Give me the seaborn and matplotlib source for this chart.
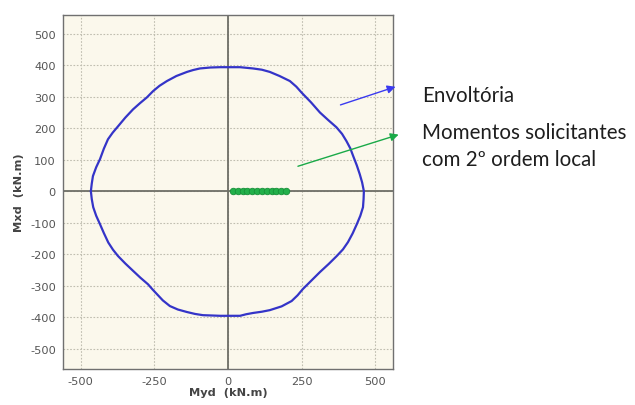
"""
Interaction diagram: envelope of resisting moments and applied moments.
"""
import pandas as pd
import seaborn as sns
import matplotlib.pyplot as plt

# envelope (Myd, Mxd) in kN.m
env_myd = [-465, -462, -458, -447, -434, -421, -407, -391, -373, -348, -322, -298, -275, -254,
           -232, -207, -175, -139, -118, -95, -60, -27, 10, 41,
           85, 115, 142, 175, 210, 232, 250, 282, 312, 340, 368, 387, 402, 415, 425, 437, 447,
           455, 461,
           460, 458, 449, 437, 423, 407, 390, 369, 342, 312, 283, 254, 236, 216, 182, 142, 115,
           85, 62, 41, 8, -27, -55, -85, -112, -139, -170, -197, -221, -241, -256, -271, -297,
           -322, -348, -373, -390, -406, -421, -434, -447, -457, -462, -465]
env_mxd = [0, 24, 48, 76, 102, 135, 165, 186, 206, 234, 260, 280, 298, 318,
           335, 350, 366, 379, 385, 390, 393, 394, 394, 394,
           390, 386, 379, 366, 350, 332, 313, 282, 250, 226, 203, 182, 159, 136, 111, 82, 54,
           28, 0,
           -25, -51, -78, -105, -134, -162, -185, -206, -231, -257, -284, -311, -331, -349, -366,
           -378, -383, -387, -391, -396, -396, -396, -395, -394, -390, -384, -376, -365, -347,
           -327, -312, -296, -275, -253, -230, -206, -186, -163, -133, -105, -78, -51, -25, 0]

# applied moments with local 2nd order effects
sol_myd = [17, 33, 50, 66, 82, 99, 115, 131, 148, 164, 180, 197]
sol_mxd = [0, 0, 0, 0, 0, 0, 0, 0, 0, 0, 0, 0]

x_ticks = [-500, -250, 0, 250, 500]
y_ticks = [-500, -400, -300, -200, -100, 0, 100, 200, 300, 400, 500]


def main():
    env = pd.DataFrame({"Myd": env_myd, "Mxd": env_mxd})
    sol = pd.DataFrame({"Myd": sol_myd, "Mxd": sol_mxd})

    sns.set_style("white")
    plt.rcParams["axes.unicode_minus"] = False
    fig = plt.figure(figsize=(6.35, 4.06), dpi=100)
    ax = fig.add_axes([0.099, 0.0887, 0.520, 0.872])
    ax.set_facecolor("#fbf8ec")

    ax.axhline(0, color="#6e6e66", lw=1.3, zorder=1)
    ax.axvline(0, color="#6e6e66", lw=1.3, zorder=1)

    sns.lineplot(data=env, x="Myd", y="Mxd", sort=False, estimator=None,
                 color="#3434c8", lw=1.6, ax=ax, zorder=3)
    sns.scatterplot(data=sol, x="Myd", y="Mxd", color="#22b04a", edgecolor="#169038",
                    s=22, linewidth=0.6, ax=ax, zorder=4)

    ax.set_xlim(-560, 560)
    ax.set_ylim(-565, 560)
    ax.set_xticks(x_ticks)
    ax.set_yticks(y_ticks)
    ax.grid(True, color="#c0beb0", ls=(0, (1.5, 1.5)), lw=0.8)
    ax.tick_params(labelsize=8.2, colors="#555555", length=3, pad=2, color="#777777")
    for s in ax.spines.values():
        s.set_color("#707070")
        s.set_linewidth(1.0)

    ax.set_xlabel("Myd  (kN.m)", fontsize=8.2, fontweight="bold", color="#444444", labelpad=1)
    ax.set_ylabel("Mxd  (kN.m)", fontsize=8.2, fontweight="bold", color="#444444", labelpad=4)

    # annotations on the right
    ax.annotate("", xy=(0.627, 0.786), xytext=(0.532, 0.737), xycoords="figure fraction",
                textcoords="figure fraction",
                arrowprops=dict(arrowstyle="-|>", color="#3a3af0", lw=1.0, mutation_scale=12))
    ax.annotate("", xy=(0.632, 0.668), xytext=(0.465, 0.586), xycoords="figure fraction",
                textcoords="figure fraction",
                arrowprops=dict(arrowstyle="-|>", color="#1aaa48", lw=1.0, mutation_scale=12))

    txt = dict(fontsize=14.8, family="Lato", va="center", color="#1e1e1e")
    fig.text(0.665, 0.764, "Envoltória", **txt)
    fig.text(0.665, 0.672, "Momentos solicitantes", **txt)
    fig.text(0.665, 0.606, "com 2º ordem local", **txt)

    fig.savefig("out.png", dpi=100, facecolor="white")


if __name__ == "__main__":
    main()
